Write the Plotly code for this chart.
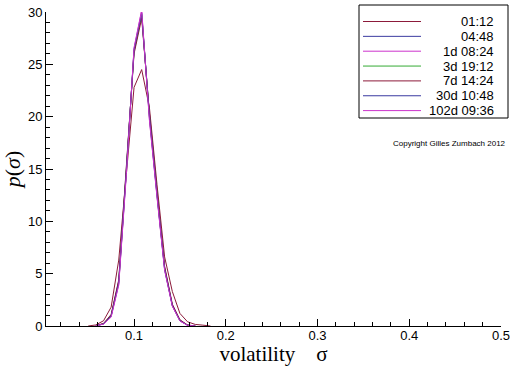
import plotly.graph_objects as go

# ---- data ----
sigma = [0.05, 0.0583, 0.0667, 0.075, 0.0833, 0.0917, 0.1, 0.1083, 0.1167,
         0.125, 0.1333, 0.1417, 0.15, 0.1583, 0.1667, 0.175, 0.1833]

labels = ["01:12", "04:48", "1d 08:24", "3d 19:12", "7d 14:24", "30d 10:48", "102d 09:36"]
colors = ["#8c1a3a", "#3a3aa0", "#cc33cc", "#33aa33", "#8c1a3a", "#3a3aa0", "#cc33cc"]

p_01_12 = [0, 0.1, 0.5, 1.8, 6.3, 15.0, 22.8, 24.5, 20.9, 13.5, 6.6, 3.3, 1.2, 0.4, 0.15, 0.08, 0]
p_04_48 = [None, 0.02, 0.2, 1.0, 4.3, 15.2, 26.2, 29.7, 20.3, 12.7, 5.6, 2.0, 0.55, 0.08, 0.0, None, None]
p_1d_08_24 = [None, 0.02, 0.2, 0.9, 4.0, 14.8, 26.5, 30.2, 19.8, 12.4, 5.4, 1.9, 0.5, 0.07, 0.0, None, None]
p_3d_19_12 = [None, 0.02, 0.22, 1.0, 4.2, 15.0, 26.3, 29.8, 20.1, 12.6, 5.5, 2.0, 0.52, 0.08, 0.0, None, None]
p_7d_14_24 = [None, 0.03, 0.25, 1.1, 4.4, 15.4, 26.0, 29.4, 20.4, 12.9, 5.7, 2.1, 0.6, 0.1, 0.0, None, None]
p_30d_10_48 = [None, 0.02, 0.2, 0.95, 4.1, 14.9, 26.4, 29.9, 20.0, 12.5, 5.4, 1.95, 0.5, 0.07, 0.0, None, None]
p_102d_09_36 = [None, 0.02, 0.18, 0.85, 3.9, 14.6, 26.6, 30.1, 19.7, 12.3, 5.3, 1.9, 0.48, 0.06, 0.0, None, None]

series = [p_01_12, p_04_48, p_1d_08_24, p_3d_19_12, p_7d_14_24, p_30d_10_48, p_102d_09_36]

x_ticks = [0.1, 0.2, 0.3, 0.4, 0.5]
y_ticks = [0, 5, 10, 15, 20, 25, 30]

# ---- layout geometry (pixels) ----
W, H = 512, 366
ML, MR, MT, MB = 46, 11, 12, 40
PW, PH = W - ML - MR, H - MT - MB


def px_x(px):
    return (px - ML) / PW


def px_y(py):
    return (H - MB - py) / PH


fig = go.Figure()
for lab, col, ys in zip(labels, colors, series):
    fig.add_trace(go.Scatter(x=sigma, y=ys, mode="lines", name=lab,
                             line=dict(color=col, width=1), showlegend=False,
                             hoverinfo="skip"))

# manual legend (right-aligned labels, as in the original)
shapes = [dict(type="rect", xref="paper", yref="paper",
               x0=px_x(359), x1=px_x(508), y0=px_y(118), y1=px_y(5),
               line=dict(color="black", width=1), fillcolor="white", layer="below")]
annotations = []
for i, (lab, col) in enumerate(zip(labels, colors)):
    yy = 21.5 + 14.85 * i
    shapes.append(dict(type="line", xref="paper", yref="paper",
                       x0=px_x(363), x1=px_x(421), y0=px_y(yy), y1=px_y(yy),
                       line=dict(color=col, width=1)))
    annotations.append(dict(xref="paper", yref="paper", x=px_x(496), y=px_y(yy),
                            text=lab, showarrow=False, xanchor="right", yanchor="middle",
                            font=dict(family="Liberation Sans, Arial", size=13, color="black")))

annotations.append(dict(xref="paper", yref="paper", x=px_x(508), y=px_y(143),
                        text="Copyright Gilles Zumbach 2012", showarrow=False,
                        xanchor="right", yanchor="middle",
                        font=dict(family="Liberation Sans, Arial", size=8, color="black")))

fig.update_layout(
    width=W, height=H,
    margin=dict(l=ML, r=MR, t=MT, b=MB, pad=0),
    paper_bgcolor="white", plot_bgcolor="white",
    font=dict(family="Liberation Sans, Arial", size=13, color="black"),
    shapes=shapes, annotations=annotations,
    xaxis=dict(range=[0.004, 0.5], tickvals=x_ticks, ticktext=[str(v) for v in x_ticks],
               showline=True, linecolor="black", linewidth=1, mirror=False,
               showgrid=False, zeroline=False,
               ticks="inside", ticklen=7, tickcolor="black", tickwidth=1,
               ticklabelstandoff=-3,
               minor=dict(dtick=0.02, tick0=0, ticks="inside", ticklen=4, tickcolor="black", showgrid=False),
               tickfont=dict(size=13),
               title=dict(text="volatility\u00a0\u00a0\u00a0\u00a0σ", standoff=2,
                          font=dict(family="Liberation Serif, Times New Roman", size=21)),
               automargin=False),
    yaxis=dict(range=[0, 30], tickvals=y_ticks,
               showline=True, linecolor="black", linewidth=1, mirror=False,
               showgrid=False, zeroline=False,
               ticks="inside", ticklen=7, tickcolor="black", tickwidth=1,
               minor=dict(dtick=1, tick0=0, ticks="inside", ticklen=4, tickcolor="black", showgrid=False),
               tickfont=dict(size=13),
               title=dict(text="<i>p</i>(<i>σ</i>)", standoff=6,
                          font=dict(family="Liberation Serif, Times New Roman", size=22)),
               automargin=False),
)

fig.write_html("out.html", config={"displayModeBar": False},
               post_script="document.body.style.margin='0';document.body.style.padding='0';")
